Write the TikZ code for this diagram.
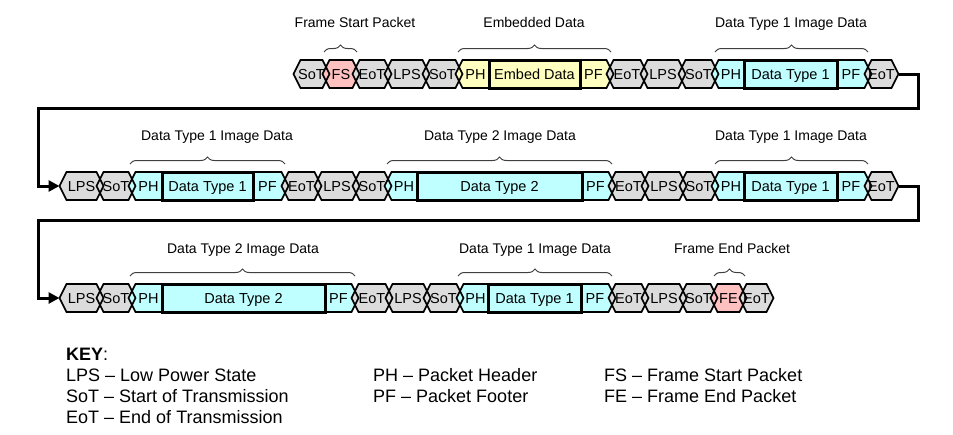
\documentclass[tikz,border=0pt]{standalone}
\usepackage{fontspec}
\setmainfont{Liberation Sans}
\usetikzlibrary{decorations.pathreplacing,arrows.meta}
\pgfdeclarelayer{bg}
\pgfdeclarelayer{paper}
\pgfsetlayers{paper,bg,main}
\definecolor{hgray}{HTML}{DCDCDC}
\definecolor{hpink}{HTML}{FFC0C0}
\definecolor{hyel}{HTML}{FFFFC0}
\definecolor{hcyan}{HTML}{C0FFFF}
\tikzset{
  segline/.style={draw=black,line width=1.6pt,line join=miter},
  boxline/.style={draw=black,line width=3pt},
  segtext/.style={inner sep=0pt,text height=13pt,text depth=3pt,font=\fontsize{14.5}{16}\selectfont},
  lbltext/.style={inner sep=0pt,text height=13pt,text depth=3pt,font=\fontsize{14}{16}\selectfont},
  keytext/.style={inner sep=0pt,anchor=west,text height=16pt,text depth=4pt,font=\fontsize{18}{21}\selectfont},
  bracestyle/.style={draw=black!75,line width=1pt,decorate,decoration={brace,amplitude=7pt}},
  loopline/.style={draw=black,line width=3pt,-{Triangle[length=11pt,width=11pt]}}
}
% name, xl, xr, y, fill, text
\newcommand\hexseg[6]{%
  \begin{pgfonlayer}{bg}
  \fill[#5] (#2-3.5,#4) -- (#2+3.5,#4-14) -- (#3-3.5,#4-14) -- (#3+3.5,#4) -- (#3-3.5,#4+14) -- (#2+3.5,#4+14) -- cycle;
  \end{pgfonlayer}
  \draw[segline] (#2-3.5,#4) -- (#2+3.5,#4-14) -- (#3-3.5,#4-14) -- (#3+3.5,#4) -- (#3-3.5,#4+14) -- (#2+3.5,#4+14) -- cycle;
  \node[segtext] (#1) at ({(#2+#3)/2},#4) {#6};
}
\newcommand\phseg[6]{%
  \begin{pgfonlayer}{bg}
  \fill[#5] (#2-3.5,#4) -- (#2+3.5,#4-14) -- (#3,#4-14) -- (#3,#4+14) -- (#2+3.5,#4+14) -- cycle;
  \end{pgfonlayer}
  \draw[segline] (#2-3.5,#4) -- (#2+3.5,#4-14) -- (#3,#4-14) -- (#3,#4+14) -- (#2+3.5,#4+14) -- cycle;
  \node[segtext] (#1) at ({(#2+3+#3)/2},#4) {#6};
}
\newcommand\pfseg[6]{%
  \begin{pgfonlayer}{bg}
  \fill[#5] (#2,#4-14) -- (#3-3.5,#4-14) -- (#3+3.5,#4) -- (#3-3.5,#4+14) -- (#2,#4+14) -- cycle;
  \end{pgfonlayer}
  \draw[segline] (#2,#4-14) -- (#3-3.5,#4-14) -- (#3+3.5,#4) -- (#3-3.5,#4+14) -- (#2,#4+14) -- cycle;
  \node[segtext] (#1) at ({(#2+#3-3)/2},#4) {#6};
}
\newcommand\dataseg[6]{%
  \fill[#5] (#2,#4-14) rectangle (#3,#4+14);
  \draw[boxline] (#2,#4-14) rectangle (#3,#4+14);
  \node[segtext] (#1) at ({(#2+#3)/2},#4) {#6};
}
\begin{document}
\begin{tikzpicture}[x=1pt,y=-1pt]
\useasboundingbox (0,0) rectangle (953,434);
\begin{pgfonlayer}{paper}
\fill[white] (0,0) rectangle (953,434);
\end{pgfonlayer}
% ---------- Row 1 ----------
\hexseg{a1}{297}{326}{74}{hgray}{SoT}
\hexseg{a2}{326}{356}{74}{hpink}{FS}
\hexseg{a3}{356}{388}{74}{hgray}{EoT}
\hexseg{a4}{388}{426}{74}{hgray}{LPS}
\hexseg{a5}{426}{459}{74}{hgray}{SoT}
\phseg{a6}{459}{489}{74}{hyel}{PH}
\dataseg{a7}{489}{580}{74}{hyel}{Embed Data}
\pfseg{a8}{580}{610}{74}{hyel}{PF}
\hexseg{a9}{610}{644}{74}{hgray}{EoT}
\hexseg{a10}{644}{682}{74}{hgray}{LPS}
\hexseg{a11}{682}{715}{74}{hgray}{SoT}
\phseg{a12}{715}{744}{74}{hcyan}{PH}
\dataseg{a13}{744}{837}{74}{hcyan}{Data Type 1}
\pfseg{a14}{837}{868}{74}{hcyan}{PF}
\hexseg{a15}{868}{895}{74}{hgray}{EoT}
% ---------- Row 2 ----------
\hexseg{b1}{63}{100}{186}{hgray}{LPS}
\hexseg{b2}{100}{132}{186}{hgray}{SoT}
\phseg{b3}{132}{162}{186}{hcyan}{PH}
\dataseg{b4}{162}{253}{186}{hcyan}{Data Type 1}
\pfseg{b5}{253}{285}{186}{hcyan}{PF}
\hexseg{b6}{285}{318}{186}{hgray}{EoT}
\hexseg{b7}{318}{356}{186}{hgray}{LPS}
\hexseg{b8}{356}{388}{186}{hgray}{SoT}
\phseg{b9}{388}{417}{186}{hcyan}{PH}
\dataseg{b10}{417}{582}{186}{hcyan}{Data Type 2}
\pfseg{b11}{582}{612}{186}{hcyan}{PF}
\hexseg{b12}{612}{645}{186}{hgray}{EoT}
\hexseg{b13}{645}{683}{186}{hgray}{LPS}
\hexseg{b14}{683}{715}{186}{hgray}{SoT}
\phseg{b15}{715}{744}{186}{hcyan}{PH}
\dataseg{b16}{744}{837}{186}{hcyan}{Data Type 1}
\pfseg{b17}{837}{868}{186}{hcyan}{PF}
\hexseg{b18}{868}{895}{186}{hgray}{EoT}
% ---------- Row 3 ----------
\hexseg{c1}{63}{100}{298}{hgray}{LPS}
\hexseg{c2}{100}{132}{298}{hgray}{SoT}
\phseg{c3}{132}{162}{298}{hcyan}{PH}
\dataseg{c4}{162}{325}{298}{hcyan}{Data Type 2}
\pfseg{c5}{325}{355}{298}{hcyan}{PF}
\hexseg{c6}{355}{389}{298}{hgray}{EoT}
\hexseg{c7}{389}{427}{298}{hgray}{LPS}
\hexseg{c8}{427}{460}{298}{hgray}{SoT}
\phseg{c9}{460}{488}{298}{hcyan}{PH}
\dataseg{c10}{488}{581}{298}{hcyan}{Data Type 1}
\pfseg{c11}{581}{612}{298}{hcyan}{PF}
\hexseg{c12}{612}{645}{298}{hgray}{EoT}
\hexseg{c13}{645}{683}{298}{hgray}{LPS}
\hexseg{c14}{683}{714}{298}{hgray}{SoT}
\hexseg{c15}{714}{743}{298}{hpink}{FE}
\hexseg{c16}{743}{770}{298}{hgray}{EoT}
% ---------- Loop connectors ----------
\coordinate (r1tip) at (898.5,74);
\coordinate (r2start) at (59.5,186);
\coordinate (r2tip) at (898.5,186);
\coordinate (r3start) at (59.5,298);
\draw[loopline] (r1tip) -- (918,74) |- (38,108) |- (r2start);
\draw[loopline] (r2tip) -- (918,186) |- (38,220) |- (r3start);
% ---------- Braces and labels ----------
\draw[bracestyle] (324,52) -- (357,52);
\node[lbltext] (l1) at (355,22) {Frame Start Packet};
\draw[bracestyle] (458,52) -- (611,52);
\node[lbltext] (l2) at (534,22) {Embedded Data};
\draw[bracestyle] (715,52) -- (868,52);
\node[lbltext] (l3) at (791,22) {Data Type 1 Image Data};
\draw[bracestyle] (130,164) -- (285,164);
\node[lbltext] (l4) at (217,135) {Data Type 1 Image Data};
\draw[bracestyle] (387,164) -- (612,164);
\node[lbltext] (l5) at (500,135) {Data Type 2 Image Data};
\draw[bracestyle] (715,164) -- (868,164);
\node[lbltext] (l6) at (791,135) {Data Type 1 Image Data};
\draw[bracestyle] (130,276) -- (355,276);
\node[lbltext] (l7) at (243,248) {Data Type 2 Image Data};
\draw[bracestyle] (458,276) -- (612,276);
\node[lbltext] (l8) at (535,248) {Data Type 1 Image Data};
\draw[bracestyle] (714,276) -- (745,276);
\node[lbltext] (l9) at (732,248) {Frame End Packet};
% ---------- Key ----------
\node[keytext] (k0) at (66,354) {\textbf{KEY}:};
\node[keytext] (k1) at (66,375) {LPS – Low Power State};
\node[keytext] (k2) at (66,396) {SoT – Start of Transmission};
\node[keytext] (k3) at (66,417) {EoT – End of Transmission};
\node[keytext] (k4) at (373,375) {PH – Packet Header};
\node[keytext] (k5) at (373,396) {PF – Packet Footer};
\node[keytext] (k6) at (604,375) {FS – Frame Start Packet};
\node[keytext] (k7) at (604,396) {FE – Frame End Packet};
\end{tikzpicture}
\end{document}
